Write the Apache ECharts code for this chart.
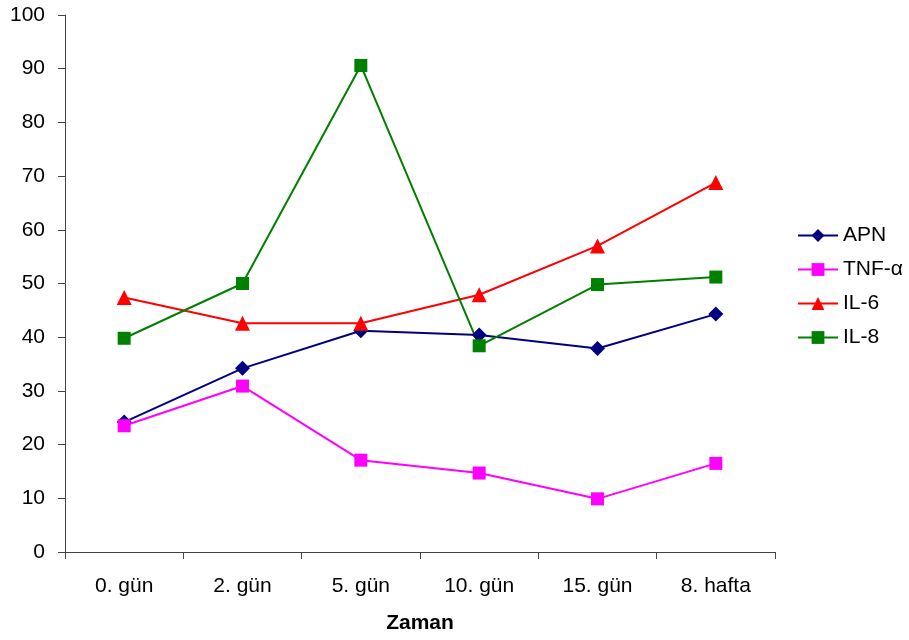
<!DOCTYPE html>
<html>
<head>
<meta charset="utf-8">
<script src="https://cdn.jsdelivr.net/npm/echarts@6/dist/echarts.min.js"></script>
<style>
  html, body { margin: 0; padding: 0; background: #fff; }
  #chart { width: 909px; height: 640px; }
</style>
</head>
<body>
<div id="chart"></div>
<script>
// Time points and measured levels for each marker
const categories = ['0. gün', '2. gün', '5. gün', '10. gün', '15. gün', '8. hafta'];
const apn = [24.2, 34.2, 41.2, 40.4, 37.9, 44.3];
const tnf = [23.5, 30.9, 17.1, 14.7, 9.9, 16.5];
const il6 = [47.4, 42.6, 42.6, 47.9, 57.0, 68.8];
const il8 = [39.8, 50.0, 90.6, 38.4, 49.8, 51.2];
const yTicks = { min: 0, max: 100, interval: 10 };

const font = 'Liberation Sans, Arial, sans-serif';
const axisColor = '#444';

function lineSeries(name, data, color, symbol, size) {
  return {
    name: name,
    type: 'line',
    data: data,
    symbol: symbol,
    symbolSize: size,
    lineStyle: { color: color, width: 2 },
    itemStyle: { color: color },
    emphasis: { disabled: true },
    animation: false
  };
}

const chart = echarts.init(document.getElementById('chart'));
chart.setOption({
  backgroundColor: '#fff',
  textStyle: { fontFamily: font },
  grid: { left: 65, right: 134, top: 15, bottom: 88, containLabel: false },
  legend: {
    orient: 'vertical',
    left: 797,
    top: 225,
    padding: 0,
    itemWidth: 40,
    itemHeight: 16,
    itemGap: 13,
    textStyle: { fontFamily: font, fontSize: 21, color: '#000' },
    data: ['APN', 'TNF-α', 'IL-6', 'IL-8']
  },
  xAxis: {
    type: 'category',
    data: categories,
    boundaryGap: true,
    name: 'Zaman',
    nameLocation: 'middle',
    nameGap: 61,
    nameTextStyle: { fontFamily: font, fontSize: 21, fontWeight: 'bold', color: '#000' },
    axisLine: { lineStyle: { color: axisColor, width: 1 } },
    axisTick: { show: true, length: 7, lineStyle: { color: axisColor, width: 1 } },
    axisLabel: { fontFamily: font, fontSize: 21, color: '#000', margin: 24 },
    splitLine: { show: false }
  },
  yAxis: {
    type: 'value',
    min: yTicks.min,
    max: yTicks.max,
    interval: yTicks.interval,
    axisLine: { show: true, lineStyle: { color: axisColor, width: 1 } },
    axisTick: { show: true, length: 7, lineStyle: { color: axisColor, width: 1 } },
    axisLabel: { fontFamily: font, fontSize: 21, color: '#000', margin: 20 },
    splitLine: { show: false }
  },
  series: [
    lineSeries('APN', apn, '#000080', 'diamond', 15),
    lineSeries('TNF-α', tnf, '#FF00FF', 'rect', 13),
    lineSeries('IL-6', il6, '#FF0000', 'triangle', 15),
    lineSeries('IL-8', il8, '#008000', 'rect', 13)
  ]
});
</script>
</body>
</html>
